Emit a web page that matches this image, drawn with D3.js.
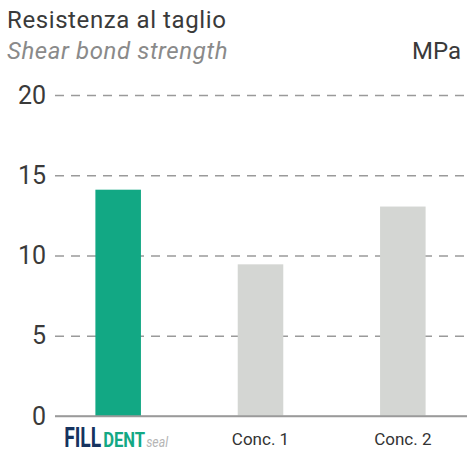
<!DOCTYPE html>
<html>
<head>
<meta charset="utf-8">
<script src="https://cdn.jsdelivr.net/npm/d3@7"></script>
<style>
  body { margin: 0; background: #fff; }
  svg { display: block; font-family: Roboto, "Open Sans", sans-serif; }
</style>
</head>
<body>
<svg id="chart" width="467" height="455"></svg>
<script>
// data
var categories = ["FILLDENTseal", "Conc. 1", "Conc. 2"];
var values = [14.1, 9.45, 13.05];
var yTicks = [0, 5, 10, 15, 20];
var logoParts = ["FILL", "DENT", "seal"];

var svg = d3.select("#chart");

var x = d3.scaleBand()
  .domain(categories)
  .range([47, 474])
  .paddingInner(0.68)
  .paddingOuter(0.34);

var y = d3.scaleLinear()
  .domain([0, 20])
  .range([416, 95]);

// titles
svg.append("text")
  .attr("x", 7).attr("y", 28)
  .attr("font-size", 24)
  .attr("letter-spacing", 0.6)
  .attr("fill", "#3a3a3a")
  .text("Resistenza al taglio");

svg.append("text")
  .attr("x", 7).attr("y", 59)
  .attr("font-size", 24)
  .attr("letter-spacing", 0.6)
  .attr("font-style", "italic")
  .attr("fill", "#8a8a8a")
  .text("Shear bond strength");

svg.append("text")
  .attr("x", 461).attr("y", 59)
  .attr("text-anchor", "end")
  .attr("font-size", 24)
  .attr("fill", "#3a3a3a")
  .text("MPa");

// gridlines + tick labels
var yAxis = d3.axisLeft(y)
  .tickValues(yTicks)
  .tickSize(-412)
  .tickPadding(9);

var ga = svg.append("g")
  .attr("transform", "translate(55,0)")
  .call(yAxis);
ga.select(".domain").remove();
ga.selectAll(".tick line")
  .attr("stroke", "#9a9a9a")
  .attr("stroke-width", 1.3)
  .attr("stroke-dasharray", function(d) { return d === 0 ? null : "9,7"; });
ga.selectAll(".tick text")
  .attr("font-size", 25)
  .attr("fill", "#3a3a3a")
  .attr("font-family", "Roboto, sans-serif");

// bars
svg.append("g").selectAll("rect")
  .data(values)
  .join("rect")
  .attr("x", function(d, i) { return x(categories[i]); })
  .attr("width", x.bandwidth())
  .attr("y", function(d) { return y(d); })
  .attr("height", function(d) { return y(0) - y(d); })
  .attr("fill", function(d, i) { return i === 0 ? "#12a884" : "#d4d6d3"; });

// baseline drawn on top
svg.append("line")
  .attr("x1", 55).attr("x2", 467)
  .attr("y1", y(0)).attr("y2", y(0))
  .attr("stroke", "#9a9a9a")
  .attr("stroke-width", 1.3);

// category labels
svg.append("g").selectAll("text")
  .data(categories.slice(1))
  .join("text")
  .attr("x", function(d) { return x(d) + x.bandwidth() / 2; })
  .attr("y", 445)
  .attr("text-anchor", "middle")
  .attr("font-size", 17)
  .attr("fill", "#333")
  .text(function(d) { return d; });

// logo: three texts squeezed horizontally to fit their width
var cx0 = x(categories[0]) + x.bandwidth() / 2;
var logoStyle = [
  { dx: -54, w: 37, size: 27, weight: 700, style: "normal", fill: "#16335f" },
  { dx: -15, w: 42, size: 20, weight: 700, style: "normal", fill: "#13a884" },
  { dx: 28,  w: 22, size: 15, weight: 400, style: "italic", fill: "#b5b5b5" }
];
svg.append("g").selectAll("text")
  .data(logoParts)
  .join("text")
  .attr("font-size", function(d, i) { return logoStyle[i].size; })
  .attr("font-weight", function(d, i) { return logoStyle[i].weight; })
  .attr("font-style", function(d, i) { return logoStyle[i].style; })
  .attr("fill", function(d, i) { return logoStyle[i].fill; })
  .text(function(d) { return d; })
  .attr("transform", function(d, i) {
    var sx = logoStyle[i].w / this.getComputedTextLength();
    return "translate(" + (cx0 + logoStyle[i].dx) + ",447) scale(" + sx + ",1)";
  });
</script>
</body>
</html>
